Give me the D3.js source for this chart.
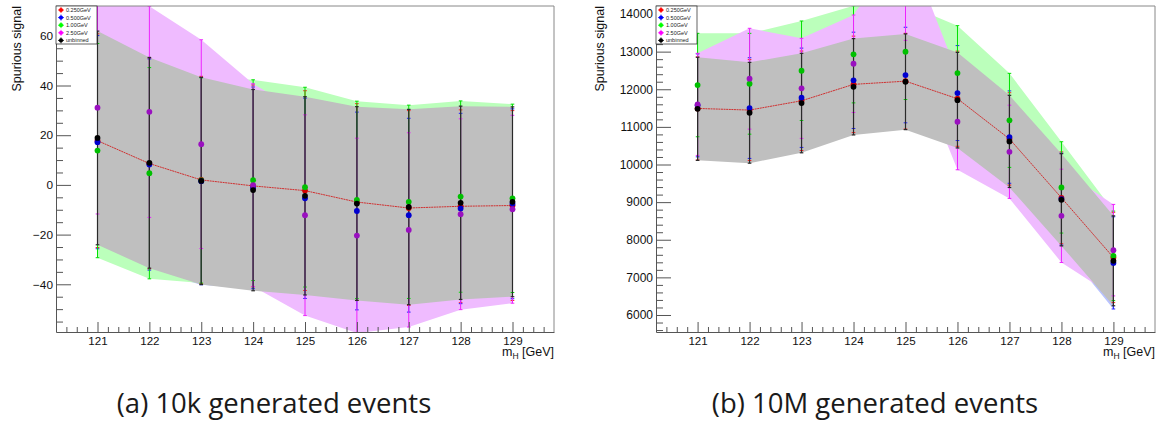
<!DOCTYPE html>
<html><head><meta charset="utf-8">
<script src="https://cdn.jsdelivr.net/npm/d3@7"></script>
<style>body{margin:0;background:#fff;} svg{display:block;}</style>
</head><body><svg id="c" width="1159" height="423"></svg>
<script>
// ---- data ----
const massPoints = [121, 122, 123, 124, 125, 126, 127, 128, 129];
const seriesNames = ["0.250GeV", "0.500GeV", "1.00GeV", "2.50GeV", "unbinned"];

// (a) 10k generated events
const sig10k_250  = [17.8, 8.6, 2.0, -0.4, -2.3, -6.9, -9.3, -8.6, -8.3];
const err10k_250  = [43.0, 42.4, 41.7, 40.6, 40.2, 39.6, 39.2, 38.8, 38.2];
const sig10k_500  = [17.2, 8.2, 1.5, -1.2, -5.4, -10.5, -12.2, -9.5, -7.6];
const err10k_500  = [42.9, 42.5, 41.7, 40.6, 40.3, 39.8, 39.0, 38.3, 38.2];
const sig10k_1000 = [13.8, 4.7, 1.8, 1.9, -0.9, -6.0, -6.8, -4.7, -5.4];
const err10k_1000 = [43.1, 42.5, 41.3, 40.4, 40.2, 39.7, 38.9, 38.5, 37.9];
const sig10k_2500 = [31.1, 29.4, 16.4, -0.1, -12.2, -20.4, -18.1, -11.8, -9.8];
const err10k_2500 = [42.8, 42.5, 42.0, 40.8, 40.4, 39.2, 39.1, 38.4, 37.8];
const sig10k_unb  = [18.9, 8.9, 1.6, -2.1, -4.4, -7.5, -8.9, -7.2, -6.8];
const err10k_unb  = [43.0, 42.4, 41.7, 40.5, 39.9, 39.0, 39.3, 38.9, 38.2];

// (b) 10M generated events
const sig10M_250  = [11490, 11447, 11694, 12130, 12215, 11749, 10680, 9115, 7529];
const err10M_250  = [1370, 1340, 1322, 1282, 1272, 1265, 1228, 1220, 1200];
const sig10M_500  = [11572, 11500, 11774, 12237, 12378, 11899, 10729, 9080, 7385];
const err10M_500  = [1368, 1338, 1320, 1280, 1270, 1262, 1228, 1222, 1225];
const sig10M_1000 = [12112, 12146, 12492, 12928, 12997, 12431, 11173, 9391, 7572];
const err10M_1000 = [1375, 1340, 1322, 1290, 1270, 1259, 1250, 1213, 1190];
const sig10M_2500 = [11598, 12280, 12024, 12678, 14630, 11136, 10338, 8636, 7723];
const err10M_2500 = [1357, 1340, 1330, 1295, 1330, 1276, 1239, 1240, 1216];
const sig10M_unb  = [11480, 11375, 11633, 12066, 12199, 11710, 10614, 9062, 7440];
const err10M_unb  = [1370, 1340, 1322, 1280, 1272, 1270, 1225, 1225, 1195];

const yTicks10k = [-40, -20, 0, 20, 40, 60];
const yTicks10M = [6000, 7000, 8000, 9000, 10000, 11000, 12000, 13000, 14000];
const captions = ["(a) 10k generated events", "(b) 10M generated events"];
const xTitle = ["m", "H", " [GeV]"];
const yTitle = "Spurious signal";

// ---- styles ----
const bandFill   = ["#ffbbbb", "#b8c2ff", "#bbffbb", "#efbbff", "#bfbfbf"];
const barColor   = ["#ff2020", "#2020ff", "#00e000", "#ee22ff", "#2a2a2a"];
const markColor  = ["#d00000", "#0000d0", "#00c000", "#9a10c0", "#000000"];
const legColor   = ["#ff0000", "#0000ff", "#00ff00", "#ff00ff", "#000000"];
const FONT = "'Liberation Sans', Arial, Helvetica, sans-serif";

const svg = d3.select("#c");

function panel(o) {
  const top = 6, bottom = 332;
  const x = d3.scaleLinear().domain([120.2, 129.8]).range([o.x0, o.x1]);
  const y = d3.scaleLinear().domain(o.ydom).range([bottom, top]);
  const g = svg.append("g");
  const cid = "clip" + o.id;
  svg.append("defs").append("clipPath").attr("id", cid)
    .append("rect").attr("x", o.x0).attr("y", top).attr("width", o.x1 - o.x0).attr("height", bottom - top);
  const plot = g.append("g").attr("clip-path", `url(#${cid})`);

  const series = o.sig.map((s, i) => massPoints.map((m, j) => ({m, v: s[j], e: o.err[i][j]})));

  // bands
  series.forEach((d, i) => {
    plot.append("path").datum(d)
      .attr("fill", bandFill[i]).attr("stroke", "none")
      .attr("d", d3.area().x(p => x(p.m)).y0(p => y(p.v - p.e)).y1(p => y(p.v + p.e)));
  });
  // error bars
  series.forEach((d, i) => {
    const gg = plot.append("g").attr("stroke", barColor[i]).attr("stroke-width", i === 4 ? 1.2 : 1.0);
    gg.selectAll("line.v").data(d).enter().append("line")
      .attr("x1", p => x(p.m)).attr("x2", p => x(p.m))
      .attr("y1", p => y(p.v - p.e)).attr("y2", p => y(p.v + p.e));
    ["lo", "hi"].forEach(k => {
      gg.selectAll("line." + k).data(d).enter().append("line")
        .attr("x1", p => x(p.m) - 1.8).attr("x2", p => x(p.m) + 1.8)
        .attr("y1", p => y(k === "lo" ? p.v - p.e : p.v + p.e))
        .attr("y2", p => y(k === "lo" ? p.v - p.e : p.v + p.e));
    });
  });
  // red line through 0.250GeV
  plot.append("path").datum(series[0]).attr("fill", "none")
    .attr("stroke", "#d03030").attr("stroke-width", 1).attr("stroke-dasharray", "2,0.6")
    .attr("d", d3.line().x(p => x(p.m)).y(p => y(p.v)));
  // markers
  [0, 2, 1, 3, 4].forEach(i => {
    plot.selectAll(null).data(series[i]).enter().append("circle")
      .attr("cx", p => x(p.m)).attr("cy", p => y(p.v)).attr("r", 2.9)
      .attr("fill", markColor[i]);
  });

  // frame top/right
  g.append("line").attr("x1", o.x0).attr("x2", o.x1).attr("y1", top).attr("y2", top).attr("stroke", "#888");
  g.append("line").attr("x1", o.x1).attr("x2", o.x1).attr("y1", top).attr("y2", bottom).attr("stroke", "#888");

  // x axis
  const minorX = d3.range(120.4, 129.7, 0.2).filter(v => Math.abs(v - Math.round(v)) > 0.05);
  const ax = g.append("g").attr("transform", `translate(0,${bottom})`)
    .call(d3.axisBottom(x).tickValues(massPoints).tickSize(-10).tickSizeOuter(0).tickPadding(5).tickFormat(d3.format("d")));
  g.append("g").attr("transform", `translate(0,${bottom})`)
    .call(d3.axisBottom(x).tickValues(minorX).tickSize(-5).tickSizeOuter(0).tickFormat(""))
    .select(".domain").remove();
  // y axis
  const ay = g.append("g").attr("transform", `translate(${o.x0},0)`)
    .call(d3.axisLeft(y).tickValues(o.yticks).tickSize(-15).tickSizeOuter(0).tickPadding(3).tickFormat(d3.format("d")));
  g.append("g").attr("transform", `translate(${o.x0},0)`)
    .call(d3.axisLeft(y).tickValues(o.yminor).tickSize(-7).tickSizeOuter(0).tickFormat(""))
    .select(".domain").remove();
  g.selectAll(".tick line").attr("stroke", "#555");
  g.selectAll(".domain").attr("stroke", "#555");
  ax.selectAll("text").attr("font-family", FONT).attr("font-size", 11.6).attr("fill", "#111");
  ay.selectAll("text").attr("font-family", FONT).attr("font-size", o.ylabSize).attr("fill", "#111");

  // y title
  g.append("text").attr("transform", `translate(${o.ytx},${top}) rotate(-90)`)
    .attr("text-anchor", "end").attr("font-family", FONT).attr("font-size", 12.5).attr("fill", "#111")
    .text(yTitle);
  // x title
  const xt = g.append("text").attr("x", o.x1).attr("y", 356).attr("text-anchor", "end")
    .attr("font-family", FONT).attr("font-size", 12.5).attr("fill", "#111");
  xt.append("tspan").text(xTitle[0]);
  xt.append("tspan").attr("dy", 3).attr("font-size", 8.5).text(xTitle[1]);
  xt.append("tspan").attr("dy", -3).text(xTitle[2]);

  // legend
  const lg = g.append("g");
  lg.append("rect").attr("x", o.x0).attr("y", top).attr("width", 41).attr("height", 38)
    .attr("fill", "#fff").attr("stroke", "#222").attr("stroke-width", 0.7);
  seriesNames.forEach((n, i) => {
    const ly = top + 4 + i * 7.6, lx = o.x0 + 5;
    lg.append("line").attr("x1", lx - 3).attr("x2", lx + 3).attr("y1", ly).attr("y2", ly).attr("stroke", legColor[i]).attr("stroke-width", 0.8);
    lg.append("line").attr("x1", lx).attr("x2", lx).attr("y1", ly - 3).attr("y2", ly + 3).attr("stroke", legColor[i]).attr("stroke-width", 0.8);
    lg.append("circle").attr("cx", lx).attr("cy", ly).attr("r", 2.1).attr("fill", legColor[i]);
    lg.append("text").attr("x", lx + 5).attr("y", ly + 2).attr("font-family", FONT).attr("font-size", 5.5)
      .attr("fill", "#222").text(n);
  });

  // caption
  svg.append("text").attr("x", o.capx).attr("y", 413).attr("text-anchor", "middle")
    .attr("font-family", "'Open Sans', 'Noto Sans', sans-serif").attr("font-size", 27.5).attr("fill", "#1a1a1a")
    .text(o.caption);
}

panel({
  id: "a", x0: 56, x1: 554, ydom: [-59.2, 72],
  sig: [sig10k_250, sig10k_500, sig10k_1000, sig10k_2500, sig10k_unb],
  err: [err10k_250, err10k_500, err10k_1000, err10k_2500, err10k_unb],
  yticks: yTicks10k, yminor: d3.range(-55, 71, 5).filter(v => v % 20 !== 0),
  ylabSize: 11.8, ytx: 20.5, capx: 274, caption: captions[0]
});
panel({
  id: "b", x0: 656, x1: 1155, ydom: [5548, 14213],
  sig: [sig10M_250, sig10M_500, sig10M_1000, sig10M_2500, sig10M_unb],
  err: [err10M_250, err10M_500, err10M_1000, err10M_2500, err10M_unb],
  yticks: yTicks10M, yminor: d3.range(5600, 14201, 200).filter(v => v % 1000 !== 0),
  ylabSize: 12, ytx: 604, capx: 875, caption: captions[1]
});
</script>
</body></html>
